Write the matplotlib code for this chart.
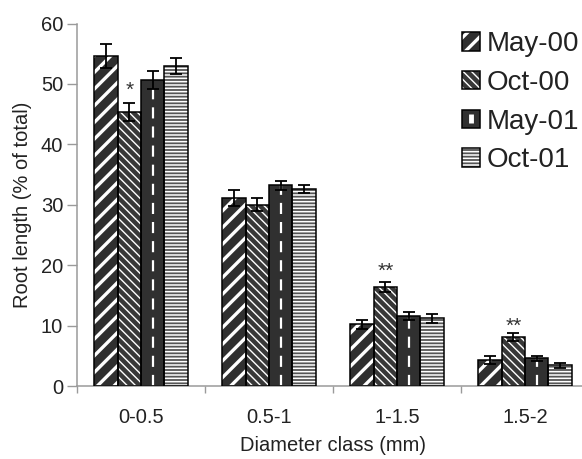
import matplotlib
matplotlib.use("Agg")
import matplotlib.pyplot as plt
from matplotlib.patches import Rectangle
from matplotlib.lines import Line2D
from matplotlib.legend_handler import HandlerBase
import numpy as np

plt.rcParams['font.family'] = ['Liberation Sans', 'DejaVu Sans']

# Data
categories = ["0-0.5", "0.5-1", "1-1.5", "1.5-2"]
series = ["May-00", "Oct-00", "May-01", "Oct-01"]
may00 = [54.6, 31.1, 10.2, 4.3]
oct00 = [45.4, 30.0, 16.4, 8.1]
may01 = [50.7, 33.2, 11.6, 4.6]
oct01 = [53.0, 32.6, 11.2, 3.4]
may00_err = [2.0, 1.3, 0.8, 0.7]
oct00_err = [1.5, 1.1, 0.8, 0.6]
may01_err = [1.5, 0.8, 0.7, 0.4]
oct01_err = [1.3, 0.7, 0.7, 0.4]
# significance markers on Oct-00 bars (category index, label)
sig_marks = [(0, "*"), (2, "**"), (3, "**")]

values = [may00, oct00, may01, oct01]
errors = [may00_err, oct00_err, may01_err, oct01_err]

# Bar styles: (face colour, hatch, hatch line width, dashed centre line)
styles = [
    ("#303030", "//", 2.4, False),
    ("#383838", "\\\\\\\\", 1.0, False),
    ("#303030", "", 1.0, True),
    ("#555555", "-----", 1.1, False),
]

fig = plt.figure(figsize=(5.82, 4.59), dpi=100)
ax = fig.add_axes([77 / 582, 1 - 386 / 459, 512 / 582, (386 - 23.5) / 459])

x = np.arange(len(categories))
w = 0.182


def apply_hatch_lw(artist, lw):
    if hasattr(artist, "set_hatch_linewidth"):
        artist.set_hatch_linewidth(lw)


for i, (vals, errs, (face, hatch, hlw, dash)) in enumerate(zip(values, errors, styles)):
    pos = x + (i - 1.5) * w
    with plt.rc_context({"hatch.linewidth": hlw}):
        fill = ax.bar(pos, vals, w, color=face, edgecolor="white", hatch=hatch,
                      linewidth=0, zorder=2)
    for p in fill:
        apply_hatch_lw(p, hlw)
    ax.bar(pos, vals, w, fill=False, edgecolor="black", linewidth=1.1, zorder=3)
    if dash:
        for p in fill:
            cx = p.get_x() + p.get_width() / 2
            ax.plot([cx, cx], [0, p.get_height()], color="white", lw=1.6,
                    dashes=(5, 3.6), solid_capstyle="butt", zorder=2.5)
    ax.errorbar(pos, vals, yerr=errs, fmt="none", ecolor="black", elinewidth=1.3,
                capsize=4.3, capthick=1.3, zorder=4)

# significance stars above the Oct-00 error bars
star_offsets = [9, 8, 5]
for (ci, label), off in zip(sig_marks, star_offsets):
    xpos = x[ci] + (1 - 1.5) * w
    top = oct00[ci] + oct00_err[ci]
    ax.annotate(label, (xpos, top), xytext=(0, off), textcoords="offset points",
                ha="center", va="center", fontsize=15, color="#333333")

ax.set_xlim(-0.5, 3.5)
ax.set_ylim(0, 60)
ax.set_yticks(np.arange(0, 61, 10))
ax.set_xticks(x)
ax.set_xticklabels(categories)
ax.set_xticks(np.arange(-0.5, 4.0, 1.0), minor=True)

for s in ("top", "right"):
    ax.spines[s].set_visible(False)
for s in ("left", "bottom"):
    ax.spines[s].set_color("#9a9a9a")
    ax.spines[s].set_linewidth(1.1)

ax.tick_params(axis="y", direction="out", length=7, width=1, color="#9a9a9a",
               labelsize=14.5, labelcolor="#222222", pad=3)
ax.tick_params(axis="x", which="major", length=0, labelsize=14.5,
               labelcolor="#222222", pad=16)
ax.tick_params(axis="x", which="minor", direction="out", length=5, width=1,
               color="#9a9a9a")

ax.set_ylabel("Root length (% of total)", fontsize=14.5, color="#222222", labelpad=6)
ax.set_xlabel("Diameter class (mm)", fontsize=14.5, color="#222222", labelpad=6.5)


class SwatchHandler(HandlerBase):
    def __init__(self, face, hatch, hlw, dash):
        super().__init__()
        self.face, self.hatch, self.hlw, self.dash = face, hatch, hlw, dash

    def create_artists(self, legend, orig, xd, yd, width, height, fontsize, trans):
        with plt.rc_context({"hatch.linewidth": self.hlw}):
            f = Rectangle((-xd, -yd), width, height, facecolor=self.face,
                          edgecolor="white", hatch=self.hatch, linewidth=0,
                          transform=trans)
        apply_hatch_lw(f, self.hlw)
        o = Rectangle((-xd, -yd), width, height, fill=False, edgecolor="black",
                      linewidth=1.1, transform=trans)
        arts = [f, o]
        if self.dash:
            cx = -xd + width / 2
            arts.append(Line2D([cx, cx], [-yd + height * 0.3, -yd + height * 0.75],
                               color="white", lw=3.5, solid_capstyle="butt",
                               transform=trans))
        return arts


handles = [Rectangle((0, 0), 1, 1) for _ in series]
hmap = {h: SwatchHandler(*st) for h, st in zip(handles, styles)}
fig.legend(handles, series, handler_map=hmap, loc="upper left",
           bbox_to_anchor=(462 / 582, 1 - 31 / 459), frameon=False, fontsize=20,
           handlelength=0.65, handleheight=0.65, handletextpad=0.25,
           labelspacing=0.46, borderpad=0, borderaxespad=0, labelcolor="#222222")

fig.savefig("out.png", dpi=100)
